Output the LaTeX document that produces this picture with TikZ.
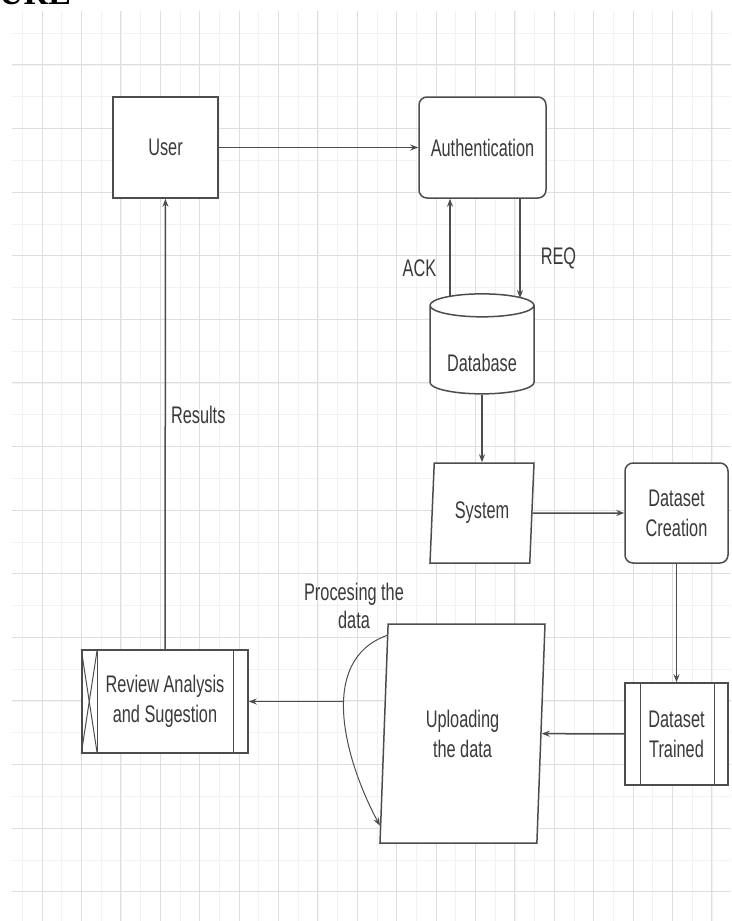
\documentclass[tikz,border=0pt]{standalone}
\usepackage{fontspec}
\setmainfont{Liberation Sans}[FakeStretch=0.68]
\newfontfamily\capfont{Liberation Serif}
\usepackage{tikz}
\usetikzlibrary{shapes.geometric,arrows.meta,calc}
\definecolor{inkgray}{HTML}{3A3A3A}
\definecolor{linegray}{HTML}{4D4D4D}

\begin{document}
\begin{tikzpicture}[x=1pt,y=1pt,
        >={Stealth[length=8pt,width=6pt]},
        every node/.style={text=inkgray,font=\fontsize{24}{30}\selectfont},
        box/.style={draw=linegray,line width=1.5pt,fill=white,align=center},
        roundbox/.style={box,rounded corners=8pt},
        slanted/.style={box,trapezium,trapezium left angle=81.5,trapezium right angle=98.5,trapezium stretches body=true},
        store/.style={box,cylinder,shape border rotate=90,aspect=0.3},
        arr/.style={->,draw=linegray,line width=1.5pt},
        lbl/.style={inner sep=2pt,align=center},
        gridfine/.style={draw=gray!10,line width=0.6pt},
        gridbold/.style={draw=gray!26,line width=0.9pt}]
        \fill[white] (0,0) rectangle (731,-921);
        \path[use as bounding box,clip] (0,0) rectangle (731,-921);

        % background grid
        \begin{scope}[shift={(2.6,-1.2)}]
            \draw[gridfine,xstep=19.7,ystep=31.8] (9.4,-9.8) grid (728.4,-919.8);
            \draw[gridbold,xstep=39.4,ystep=63.6] (9.4,-9.8) grid (728.4,-919.8);
        \end{scope}
        \node[font=\capfont\bfseries\fontsize{34}{34}\selectfont,text=black,anchor=base west,inner sep=0pt] (figcap) at (-1,-4) {URE};

        \node[box,minimum width=105,minimum height=101] (user) at (165.5,-147.5) {User};
        \node[roundbox,minimum width=127,minimum height=101] (auth) at (482.5,-147.5) {Authentication};
        \node[store,minimum width=104,minimum height=100] (db) at (482,-352) {\raisebox{-11pt}[\height][\depth]{Database}};
        \node[slanted,minimum width=104,minimum height=100] (sys) at (482,-513) {System};
        \node[roundbox,minimum width=103,minimum height=100] (dc) at (676.5,-513) {Dataset\\Creation};
        \node[box,minimum width=103,minimum height=102] (trained) at (676.5,-734) {Dataset\\Trained};
        \node[slanted,minimum width=165,minimum height=219] (upl) at (462.5,-733.5) {Uploading\\the data};
        \node[box,minimum width=166,minimum height=103] (review) at (165,-701.5) {Review Analysis\\and Sugestion};
        \node[lbl] (proclbl) at (354,-606) {Procesing the\\[-2pt]data};

        % side bars of the process boxes
        \draw[draw=linegray,line width=1.3pt] ([xshift=16]trained.north west) -- ([xshift=16]trained.south west);
        \draw[draw=linegray,line width=1.3pt] ([xshift=-14]trained.north east) -- ([xshift=-14]trained.south east);
        \draw[draw=linegray,line width=1.3pt] ([xshift=16]review.north west) -- ([xshift=16]review.south west);
        \draw[draw=linegray,line width=1.3pt] ([xshift=-15]review.north east) -- ([xshift=-15]review.south east);
        \draw[draw=linegray,line width=1pt] (review.north west) -- ([xshift=16]review.south west);
        \draw[draw=linegray,line width=1pt] ([xshift=16]review.north west) -- (review.south west);

        \path (user) edge[arr] (auth);
        \path ([xshift=-32,yshift=-3]db.north) edge[arr] node[lbl,pos=0.29,left=11pt]{ACK} ([xshift=-32]db.north |- auth.south);
        \path ([xshift=38]db.north |- auth.south) edge[arr] node[lbl,pos=0.6,right=18pt]{REQ} ([xshift=38,yshift=-5]db.north);
        \path (db) edge[arr] (sys);
        \path (sys) edge[arr] (dc);
        \path (dc) edge[arr] (trained);
        \path (trained) edge[arr] (upl);
        \draw[arr,line width=1pt] ($(upl.top left corner)!0.055!(upl.bottom left corner)$) to[out=200,in=118] coordinate[pos=0.5] (procpt) ($(upl.top left corner)!0.918!(upl.bottom left corner)$);
        \path (procpt |- review.east) edge[arr] (review.east);
        \path (review) edge[arr] node[lbl,pos=0.52,right=3pt]{Results} (user);
    \end{tikzpicture}
\end{document}
